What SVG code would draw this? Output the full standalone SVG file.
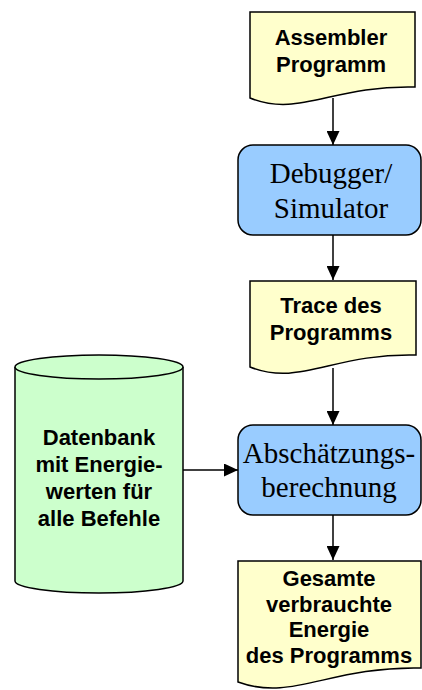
<svg xmlns="http://www.w3.org/2000/svg" width="422" height="690" viewBox="0 0 422 690">
<defs>
<marker id="ah" markerWidth="14" markerHeight="13" refX="14" refY="6.5" orient="auto" markerUnits="userSpaceOnUse">
<path d="M0,0 L14,6.5 L0,13 Z" fill="#000"/>
</marker>
<style>
.doc{fill:#FFFFCC;stroke:#000;stroke-width:1.5}
.proc{fill:#99CCFF;stroke:#000;stroke-width:1.5}
.db{fill:#CCFFCC;stroke:#000;stroke-width:1.5}
.sans{font-family:"Liberation Sans",Arial,sans-serif;font-weight:bold;font-size:22px;fill:#000;text-anchor:middle}
.serif{font-family:"Liberation Serif","Times New Roman",serif;font-size:29px;fill:#000;text-anchor:middle}
.con{stroke:#000;stroke-width:1.5;fill:none;marker-end:url(#ah)}
</style>
</defs>
<g id="connectors">
<line class="con" x1="333" y1="98" x2="333" y2="145"/>
<line class="con" x1="333" y1="235" x2="333" y2="280"/>
<line class="con" x1="333" y1="368" x2="333" y2="425"/>
<line class="con" x1="333" y1="515" x2="333" y2="560"/>
<line class="con" x1="183" y1="470" x2="238" y2="470"/>
</g>
<g id="assembler">
<path class="doc" d="M250,12 L415,12 L415,87 C332,85 299,118 250,98 Z"/>
<text class="sans" x="331" y="45">Assembler</text>
<text class="sans" x="331" y="72">Programm</text>
</g>
<g id="debugger">
<rect class="proc" x="238" y="145" width="183" height="90" rx="15" ry="15"/>
<text class="serif" x="331" y="183">Debugger/</text>
<text class="serif" x="331" y="218">Simulator</text>
</g>
<g id="trace">
<path class="doc" d="M250,281 L416,281 L416,355 C333,353 300,387 250,367 Z"/>
<text class="sans" x="331" y="313">Trace des</text>
<text class="sans" x="331" y="340">Programms</text>
</g>
<g id="abschaetzung">
<rect class="proc" x="238" y="425" width="183" height="90" rx="15" ry="15"/>
<text class="serif" x="329" y="463">Abschätzungs-</text>
<text class="serif" x="329" y="497">berechnung</text>
</g>
<g id="gesamt">
<path class="doc" d="M238,561 L421,561 L421,668 C329,666 293,702 238,682 Z"/>
<text class="sans" x="329" y="586">Gesamte</text>
<text class="sans" x="329" y="612">verbrauchte</text>
<text class="sans" x="329" y="637">Energie</text>
<text class="sans" x="329" y="663">des Programms</text>
</g>
<g id="datenbank">
<path class="db" d="M15,367 A84,12 0 0,1 183,367 V581 A84,12 0 0,1 15,581 Z"/>
<path class="db" d="M15,367 A84,12 0 0,0 183,367" fill="none"/>
<text class="sans" x="99" y="445">Datenbank</text>
<text class="sans" x="99" y="472">mit Energie-</text>
<text class="sans" x="99" y="499">werten für</text>
<text class="sans" x="99" y="526">alle Befehle</text>
</g>
</svg>
